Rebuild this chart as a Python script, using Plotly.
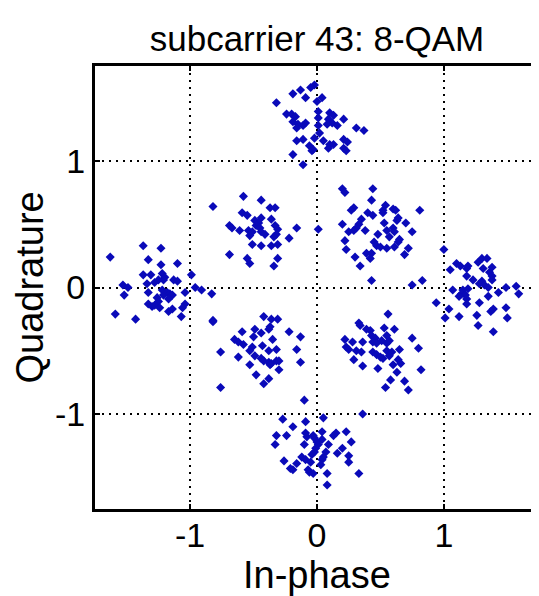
import plotly.graph_objects as go

# Received constellation points for subcarrier 43 (8-QAM)
top_i = [-0.02, -0.05, -0.13, -0.19, -0.09, 0.04, 0.00, -0.32, -0.24, -0.20, -0.17, -0.19, -0.15, -0.09,
         -0.11, -0.16, 0.01, 0.01, 0.10, 0.13, 0.09, 0.12, 0.16, 0.08, 0.21, 0.31, 0.37, 0.01, 0.02,
         -0.16, -0.11, -0.02, 0.05, -0.06, -0.03, -0.04, 0.10, 0.13, 0.09, 0.21, 0.24, 0.21, 0.23,
         -0.19, -0.11]
top_q = [1.60, 1.58, 1.56, 1.53, 1.50, 1.50, 1.47, 1.46, 1.37, 1.37, 1.35, 1.31, 1.29, 1.30,
         1.28, 1.26, 1.39, 1.34, 1.38, 1.36, 1.33, 1.30, 1.28, 1.29, 1.33, 1.26, 1.24, 1.28, 1.22,
         1.16, 1.17, 1.18, 1.16, 1.12, 1.09, 1.08, 1.13, 1.13, 1.10, 1.17, 1.15, 1.10, 1.08,
         1.05, 0.97]

ul_i = [-0.58, -0.44, -0.82, -0.37, -0.33, -0.59, -0.55, -0.44, -0.49, -0.46, -0.48, -0.45, -0.36,
        -0.69, -0.67, -0.61, -0.54, -0.51, -0.53, -0.44, -0.41, -0.33, -0.31, -0.32, -0.34, -0.16,
        -0.22, -0.51, -0.44, -0.36, -0.31, -0.69, -0.55, -0.53, -0.31, -0.34]
ul_q = [0.72, 0.69, 0.64, 0.63, 0.63, 0.59, 0.57, 0.55, 0.53, 0.51, 0.49, 0.47, 0.54,
        0.49, 0.47, 0.45, 0.45, 0.44, 0.41, 0.44, 0.42, 0.49, 0.46, 0.42, 0.40, 0.47,
        0.39, 0.34, 0.33, 0.33, 0.34, 0.26, 0.23, 0.19, 0.23, 0.17]

ur_i = [0.20, 0.22, 0.44, 0.43, 0.29, 0.27, 0.54, 0.52, 0.52, 0.60, 0.62, 0.81, 0.40, 0.44, 0.64,
        0.63, 0.35, 0.20, 0.33, 0.31, 0.29, 0.25, 0.38, 0.53, 0.70, 0.60, 0.55, 0.61, 0.75, 0.48,
        0.57, 0.65, 0.64, 0.22, 0.45, 0.47, 0.50, 0.55, 0.61, 0.72, 0.23, 0.39, 0.43, 0.42, 0.30,
        0.69, 0.34, 0.43, 0.75, 0.83, 0.01]
ur_q = [0.78, 0.75, 0.78, 0.69, 0.63, 0.61, 0.65, 0.61, 0.59, 0.62, 0.61, 0.61, 0.59, 0.57, 0.55,
        0.53, 0.54, 0.50, 0.50, 0.47, 0.45, 0.44, 0.45, 0.51, 0.51, 0.47, 0.45, 0.44, 0.44, 0.42,
        0.40, 0.38, 0.36, 0.37, 0.36, 0.33, 0.32, 0.31, 0.32, 0.31, 0.30, 0.27, 0.27, 0.23, 0.24,
        0.26, 0.17, 0.055, 0.02, 0.055, 0.46]

left_i = [-1.37, -1.23, -1.63, -1.33, -1.10, -1.23, -1.37, -1.31, -1.22, -1.20, -1.21, -0.99, -1.53,
          -1.49, -1.34, -1.28, -1.25, -1.13, -1.10, -1.52, -1.33, -1.22, -1.18, -1.21, -1.16, -1.14,
          -1.17, -1.04, -0.96, -0.91, -0.83, -1.26, -1.25, -1.33, -1.30, -1.28, -1.24, -1.14, -1.17,
          -1.04, -1.06, -1.59, -1.43, -1.07, -0.82]
left_q = [0.33, 0.31, 0.24, 0.22, 0.19, 0.18, 0.10, 0.10, 0.11, 0.08, 0.06, 0.10, 0.02,
          0.00, 0.03, 0.04, 0.06, 0.06, 0.05, -0.06, -0.04, -0.02, -0.04, -0.06, -0.05, -0.06,
          -0.09, -0.04, 0.00, -0.02, -0.05, -0.08, -0.11, -0.13, -0.15, -0.14, -0.16, -0.17, -0.19,
          -0.13, -0.16, -0.21, -0.25, -0.23, -0.26]

right_i = [1.00, 1.30, 1.34, 1.10, 1.13, 1.05, 1.19, 1.18, 1.27, 1.31, 1.38, 1.36, 1.38, 1.38, 1.18,
           1.23, 1.30, 1.28, 1.32, 1.35, 1.07, 1.15, 1.14, 1.17, 1.12, 1.19, 1.49, 1.57, 1.59, 1.43,
           1.35, 0.94, 1.18, 1.18, 1.28, 1.04, 1.39, 1.37, 1.49, 1.01, 1.12, 1.26, 1.50, 1.27, 1.39]
right_q = [0.30, 0.23, 0.23, 0.19, 0.17, 0.14, 0.17, 0.15, 0.20, 0.15, 0.16, 0.12, 0.09, 0.06, 0.09,
           0.06, 0.05, 0.03, 0.02, 0.00, -0.02, -0.02, -0.05, -0.06, -0.07, -0.01, 0.00, 0.01, -0.05,
           -0.04, -0.07, -0.12, -0.09, -0.13, -0.12, -0.17, -0.17, -0.19, -0.16, -0.24, -0.23, -0.22,
           -0.24, -0.30, -0.35]

ll_i = [-0.82, -0.42, -0.36, -0.31, -0.37, -0.38, -0.49, -0.59, -0.44, -0.22, -0.13, -0.50, -0.65,
        -0.62, -0.58, -0.35, -0.43, -0.51, -0.53, -0.76, -0.38, -0.32, -0.16, -0.49, -0.62, -0.44,
        -0.42, -0.38, -0.36, -0.32, -0.30, -0.37, -0.53, -0.13, -0.30, -0.48, -0.38, -0.42, -0.76,
        -0.10]
ll_q = [-0.27, -0.23, -0.25, -0.25, -0.31, -0.33, -0.33, -0.35, -0.36, -0.35, -0.39, -0.39, -0.41,
        -0.43, -0.45, -0.41, -0.46, -0.47, -0.50, -0.51, -0.50, -0.49, -0.49, -0.54, -0.55, -0.56,
        -0.58, -0.59, -0.60, -0.58, -0.58, -0.61, -0.61, -0.59, -0.65, -0.69, -0.72, -0.76, -0.79,
        -0.89]

lr_i = [0.56, 0.33, 0.34, 0.39, 0.42, 0.53, 0.61, 0.43, 0.46, 0.55, 0.75, 0.22, 0.28, 0.36, 0.44,
        0.47, 0.51, 0.55, 0.57, 0.23, 0.25, 0.31, 0.35, 0.44, 0.47, 0.50, 0.52, 0.55, 0.59, 0.57,
        0.65, 0.80, 0.29, 0.64, 0.66, 0.60, 0.36, 0.48, 0.82, 0.63, 0.58, 0.69, 0.54, 0.72, 0.36]
lr_q = [-0.21, -0.28, -0.30, -0.33, -0.34, -0.32, -0.33, -0.38, -0.40, -0.38, -0.40, -0.41, -0.43,
        -0.43, -0.43, -0.44, -0.42, -0.44, -0.42, -0.47, -0.49, -0.50, -0.51, -0.51, -0.53, -0.55,
        -0.56, -0.50, -0.51, -0.54, -0.49, -0.48, -0.57, -0.57, -0.60, -0.61, -0.62, -0.64, -0.65,
        -0.67, -0.73, -0.74, -0.79, -0.81, -1.00]

bot_i = [-0.27, -0.09, 0.05, -0.19, -0.32, -0.24, -0.09, -0.08, -0.03, -0.02, 0.00, 0.04, 0.04,
         0.15, 0.13, 0.23, -0.33, -0.10, 0.01, -0.01, -0.02, -0.04, 0.09, 0.20, 0.27, 0.07, 0.05,
         0.16, -0.12, -0.09, -0.26, -0.16, -0.05, 0.25, 0.25, 0.04, 0.03, -0.21, -0.19, -0.07,
         -0.06, -0.03, 0.08, 0.33, 0.08]
bot_q = [-1.04, -1.06, -1.03, -1.10, -1.17, -1.17, -1.15, -1.18, -1.17, -1.19, -1.22, -1.14, -1.20,
         -1.15, -1.17, -1.14, -1.24, -1.24, -1.24, -1.27, -1.30, -1.32, -1.24, -1.27, -1.22, -1.30,
         -1.34, -1.31, -1.34, -1.36, -1.37, -1.39, -1.38, -1.33, -1.38, -1.36, -1.40, -1.43, -1.44,
         -1.44, -1.46, -1.47, -1.47, -1.47, -1.56]

tick_vals = [-1, 0, 1]
tick_text = ["-1", "0", "1"]

all_i = top_i + ul_i + ur_i + left_i + right_i + ll_i + lr_i + bot_i
all_q = top_q + ul_q + ur_q + left_q + right_q + ll_q + lr_q + bot_q

FONT = "Liberation Sans, Arial, sans-serif"

fig = go.Figure(go.Scatter(
    x=all_i, y=all_q, mode="markers",
    marker=dict(symbol="diamond", size=7, color="rgb(10,10,185)", line=dict(width=0)),
    hoverinfo="x+y", showlegend=False,
))

axis_common = dict(
    range=[-1.75, 1.75],
    tickvals=tick_vals, ticktext=tick_text,
    showline=True, linecolor="black", linewidth=3, mirror="ticks",
    ticks="inside", ticklen=5, tickwidth=2, tickcolor="black",
    showgrid=True, gridcolor="black", gridwidth=1.5, griddash="2px,5px",
    zeroline=False, automargin=False,
    tickfont=dict(family=FONT, size=34, color="black"),
)

# the page body adds an 8px offset, so the figure is 8px smaller than the window
fig.update_layout(
    width=531, height=588,
    margin=dict(l=87, r=0, t=58, b=87),
    paper_bgcolor="white", plot_bgcolor="white",
    title=dict(text="subcarrier 43: 8-QAM", x=0.5, xref="paper", xanchor="center",
               y=1 - 31 / 588, yref="container", yanchor="middle",
               font=dict(family=FONT, size=35, color="black")),
    xaxis=dict(**axis_common, ticklabelstandoff=-6),
    yaxis=dict(**axis_common, ticklabelstandoff=0),
    annotations=[
        dict(text="In-phase", xref="paper", yref="paper", x=0.5, y=0,
             xanchor="center", yanchor="middle", yshift=-66, showarrow=False,
             font=dict(family=FONT, size=38, color="black")),
        dict(text="Quadrature", xref="paper", yref="paper", x=0, y=0.5,
             xanchor="center", yanchor="middle", xshift=-66, textangle=-90, showarrow=False,
             font=dict(family=FONT, size=38, color="black")),
    ],
)

fig.write_html("out.html")
